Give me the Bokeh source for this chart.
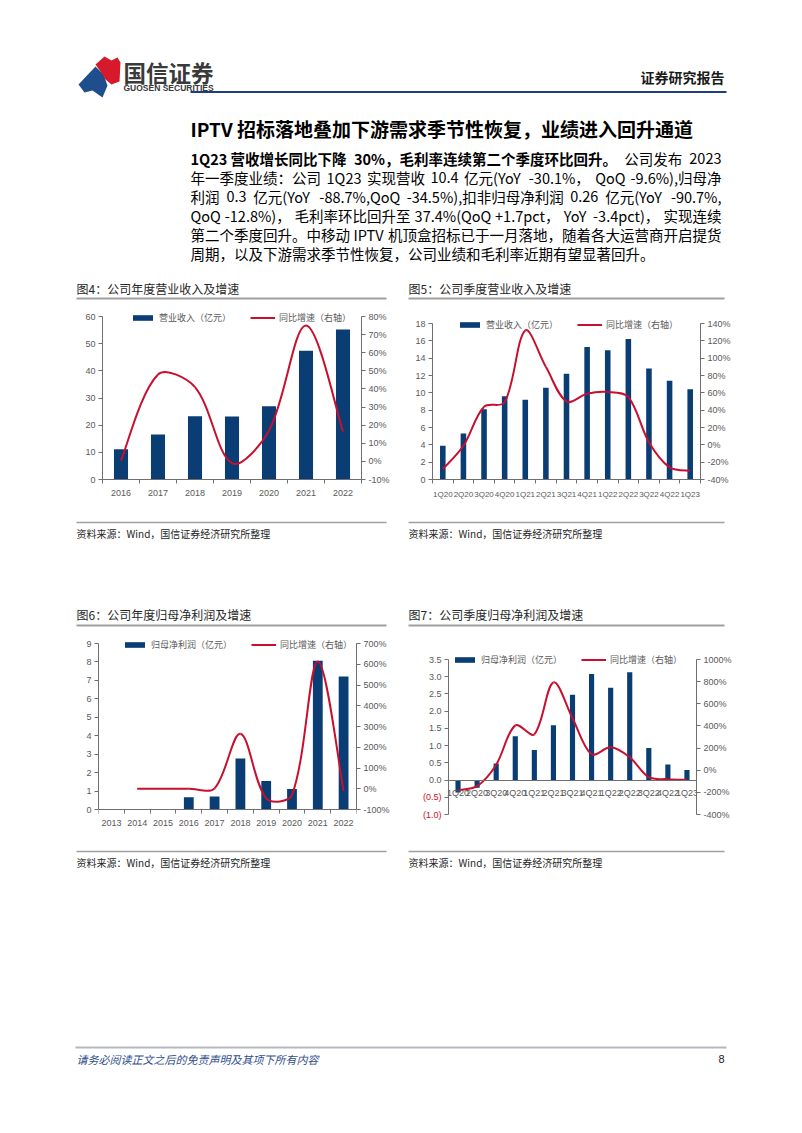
import math
import numpy as np
from bokeh.plotting import figure
from bokeh.models import (Range1d, LinearAxis, FixedTicker, PrintfTickFormatter,
                          Legend, LegendItem, ColumnDataSource)
from bokeh.layouts import column, row
from bokeh.embed import file_html
from bokeh.resources import INLINE
from bokeh.core.properties import value

nan = float("nan")

# ---------------- data ----------------
annual_years = ["2016", "2017", "2018", "2019", "2020", "2021", "2022"]
annual_revenue = [11.1, 16.6, 23.3, 23.2, 27.0, 47.4, 55.2]
annual_revenue_yoy = [0.5, 48.0, 41.0, -1.0, 17.0, 75.0, 16.5]

quarters = ["1Q20", "2Q20", "3Q20", "4Q20", "1Q21", "2Q21", "3Q21",
            "4Q21", "1Q22", "2Q22", "3Q22", "4Q22", "1Q23"]
quarterly_revenue = [3.9, 5.3, 8.1, 9.6, 9.2, 10.6, 12.2, 15.3, 14.9, 16.2, 12.8, 11.4, 10.4]
quarterly_revenue_yoy = [-28, -1, 44, 49, 132, 90, 50, 59, 61, 55, 3, -26, -30]

profit_years = ["2013", "2014", "2015", "2016", "2017", "2018", "2019", "2020", "2021", "2022"]
annual_profit = [nan, nan, nan, 0.66, 0.71, 2.76, 1.54, 1.11, 8.06, 7.21]
annual_profit_yoy = [nan, 0, 0, 0, 2, 265, -46, -30, 613, -10]

quarterly_profit = [-0.36, -0.22, 0.48, 1.27, 0.87, 1.59, 2.48, 3.08, 2.68, 3.13, 0.93, 0.45, 0.29]
quarterly_profit_yoy = [-180, -144, 50, 405, 324, 793, 470, 144, 207, 117, -63, -81, -86]

t4_left = [0, 10, 20, 30, 40, 50, 60]
t4_right = [-10, 0, 10, 20, 30, 40, 50, 60, 70, 80]
t5_left = [0, 2, 4, 6, 8, 10, 12, 14, 16, 18]
t5_right = [-40, -20, 0, 20, 40, 60, 80, 100, 120, 140]
t6_left = [0, 1, 2, 3, 4, 5, 6, 7, 8, 9]
t6_right = [-100, 0, 100, 200, 300, 400, 500, 600, 700]
t7_left = [-1.0, -0.5, 0.0, 0.5, 1.0, 1.5, 2.0, 2.5, 3.0, 3.5]
t7_left_neg = {-0.5: "(0.5)", -1.0: "(1.0)"}
t7_right = [-400, -200, 0, 200, 400, 600, 800, 1000]

leg_rev = ["营业收入（亿元）", "同比增速（右轴）"]
leg_np = ["归母净利润（亿元）", "同比增速（右轴）"]

NAVY = "#0A3D73"
RED = "#C8102E"
AXIS = "#6F6F6F"
TICK = "#595959"
CJK = "Noto Sans CJK SC"
LAT = "Liberation Sans"
PAGE_W = 802


def smooth_segments(xs, ys, sx, sy):
    """Bezier segments through the points (distance-weighted smoothing)."""
    pts = [(x, y) for x, y in zip(xs, ys) if not np.isnan(y)]
    n = len(pts)
    d = dict(x0=[], y0=[], x1=[], y1=[], cx0=[], cy0=[], cx1=[], cy1=[])

    def dist(a, b):
        return math.hypot((b[0] - a[0]) * sx, (b[1] - a[1]) * sy)

    for i in range(n - 1):
        p0 = pts[i - 1] if i > 0 else pts[i]
        p1, p2 = pts[i], pts[i + 1]
        p3 = pts[i + 2] if i + 2 < n else pts[i + 1]
        d01, d12, d23 = dist(p0, p1), dist(p1, p2), dist(p2, p3)
        f1 = 0.5 if d01 == 0 else d12 / (d01 + d12)
        f2 = 0.5 if d23 == 0 else d12 / (d12 + d23)
        d["x0"].append(p1[0]); d["y0"].append(p1[1])
        d["x1"].append(p2[0]); d["y1"].append(p2[1])
        d["cx0"].append(p1[0] + (p2[0] - p0[0]) * f1 / 3.0)
        d["cy0"].append(p1[1] + (p2[1] - p0[1]) * f1 / 3.0)
        d["cx1"].append(p2[0] - (p3[0] - p1[0]) * f2 / 3.0)
        d["cy1"].append(p2[1] - (p3[1] - p1[1]) * f2 / 3.0)
    return d


def style_axis(ax, size="9px"):
    ax.axis_line_color = AXIS
    ax.axis_line_width = 1
    ax.major_tick_line_color = AXIS
    ax.major_tick_out = 4
    ax.major_tick_in = 0
    ax.minor_tick_line_color = None
    ax.major_label_text_font = LAT
    ax.major_label_text_font_size = size
    ax.major_label_text_color = TICK
    ax.major_label_standoff = 3


def make_chart(fig_x, fig_y, w, h, frame, cats, bars, growth, lrange, lticks,
               lfmt, rrange, rticks, bar_w, names, leg_pos, xsize,
               pad_top=10, pad_left=0, pad_bottom=0, fixed_x=False,
               x_standoff=6, xticks=True):
    L, R, T, B = frame            # page position of the tick area
    n = len(cats)
    ppc = (R - L) / n
    lppu = (B - T) / (lrange[1] - lrange[0])
    rppu = (B - T) / (rrange[1] - rrange[0])
    p = figure(width=w, height=h,
               x_range=Range1d(-0.5 - pad_left / ppc, n - 0.5),
               y_range=Range1d(lrange[0] - pad_bottom / lppu, lrange[1] + pad_top / lppu),
               output_backend="svg", toolbar_location=None,
               min_border_left=L - pad_left - fig_x,
               min_border_right=fig_x + w - R,
               min_border_top=T - pad_top - fig_y,
               min_border_bottom=fig_y + h - B - pad_bottom)
    p.outline_line_color = None
    p.grid.visible = False
    p.extra_y_ranges = {"r": Range1d(rrange[0] - pad_bottom / rppu,
                                     rrange[1] + pad_top / rppu)}

    ya = p.yaxis[0]
    ya.ticker = FixedTicker(ticks=lticks)
    ya.formatter = PrintfTickFormatter(format=lfmt)
    ya.bounds = lrange
    style_axis(ya)
    if pad_left:
        ya.fixed_location = -0.5

    ra = LinearAxis(y_range_name="r", ticker=FixedTicker(ticks=rticks),
                    formatter=PrintfTickFormatter(format="%d%%"), bounds=rrange)
    style_axis(ra)
    p.add_layout(ra, "right")

    idx = list(range(n))
    xa = p.xaxis[0]
    xa.ticker = FixedTicker(ticks=idx, minor_ticks=[i - 0.5 for i in range(n + 1)])
    xa.major_label_overrides = {i: c for i, c in enumerate(cats)}
    xa.bounds = (-0.5, n - 0.5)
    style_axis(xa, xsize)
    xa.major_tick_line_color = None
    xa.major_tick_out = 0
    xa.major_label_standoff = x_standoff
    if xticks:
        xa.minor_tick_line_color = AXIS
        xa.minor_tick_out = 4
        xa.minor_tick_in = 0
    if fixed_x:
        xa.fixed_location = 0

    src = ColumnDataSource(dict(x=idx, top=bars))
    vb = p.vbar(x="x", top="top", width=bar_w, source=src,
                fill_color=NAVY, line_color=None)
    seg = ColumnDataSource(smooth_segments(idx, growth, ppc, rppu))
    bz = p.bezier(x0="x0", y0="y0", x1="x1", y1="y1", cx0="cx0", cy0="cy0",
                  cx1="cx1", cy1="cy1", source=seg, y_range_name="r",
                  line_color=RED, line_width=2)

    lx, lc = leg_pos              # page x of legend, page y of its centre
    leg = Legend(items=[LegendItem(label=names[0], renderers=[vb]),
                        LegendItem(label=names[1], renderers=[bz])],
                 orientation="horizontal",
                 location=(lx - (L - pad_left), (B + pad_bottom - lc) - 6),
                 glyph_width=25, glyph_height=7, label_height=7, label_width=10,
                 label_standoff=4, spacing=19, padding=0, margin=0,
                 border_line_color=None, background_fill_alpha=0,
                 label_text_font=CJK, label_text_font_size="9px",
                 label_text_color=TICK)
    p.add_layout(leg)
    return p


def strip(h):
    p = figure(width=PAGE_W, height=h, x_range=Range1d(0, PAGE_W),
               y_range=Range1d(h, 0), output_backend="svg",
               toolbar_location=None, x_axis_location=None,
               y_axis_location=None, min_border=0)
    p.outline_line_color = None
    p.grid.visible = False
    return p


def txt(p, top, px, py, s, size, color="#000000", style="normal",
        align="left", font=CJK):
    p.text(x=[px], y=[py - top], text=[s], text_font=value(font),
           text_font_size=size, text_color=color, text_align=align,
           text_baseline="middle", text_font_style=style)


def hline(p, top, x0, x1, py, color, width):
    p.line(x=[x0, x1], y=[py - top, py - top], line_color=color, line_width=width)


LATIN_W = {".": 0.276, ",": 0.276, "-": 0.342, "+": 0.553, "%": 0.915,
           "(": 0.335, ")": 0.335, " ": 0.224, "Q": 0.737, "Y": 0.57,
           "o": 0.605, "I": 0.29, "P": 0.65, "T": 0.6, "V": 0.61, "p": 0.62,
           "c": 0.505, "t": 0.39}


def est_width(s, size, bold):
    w = 0.0
    for ch in s:
        if ord(ch) > 0x2E80:
            w += 1.0
        elif ch.isdigit():
            w += 0.553 * (1.06 if bold else 1.0)
        else:
            w += LATIN_W.get(ch, 0.56) * (1.06 if bold else 1.0)
    return w * size


def justified(p, top, x0, x1, py, chunks, size):
    widths = [est_width(s, size, b) for s, b in chunks]
    gap = (x1 - x0 - sum(widths)) / (len(chunks) - 1)
    pos = x0
    for i, ((s, b), wd) in enumerate(zip(chunks, widths)):
        style = "bold" if b else "normal"
        if i == len(chunks) - 1:
            txt(p, top, x1, py, s, f"{size}px", "#000000", style, align="right")
        else:
            txt(p, top, pos, py, s, f"{size}px", "#000000", style)
        pos += wd + gap


# ---------------- header strip ----------------
H1_TOP, H1_H = 0, 305
h1 = strip(H1_H)
h1.patch(x=[78, 95, 103, 107, 102, 92, 84],
         y=[84, 66, 74, 85, 97, 90, 92], fill_color="#1F4E8C", line_color=None)
h1.patch(x=[95, 104, 111, 117, 120, 119, 111, 105, 100],
         y=[64, 56, 60, 57, 62, 81, 84, 79, 71], fill_color="#D7192C", line_color=None)
txt(h1, H1_TOP, 123, 71, "国信证券", "22.5px", "#3A3A3A", "bold")
txt(h1, H1_TOP, 123, 87.5, "GUOSEN SECURITIES", "8.5px", "#3A3A3A", "bold", font=LAT)
txt(h1, H1_TOP, 724, 76, "证券研究报告", "14px", "#1A1A1A", "bold", align="right")
hline(h1, H1_TOP, 190, 726, 91.5, "#1F3D7A", 2)

txt(h1, H1_TOP, 190, 128, "IPTV 招标落地叠加下游需求季节性恢复，业绩进入回升通道",
    "19px", "#000000", "bold")

PX0, PX1, PSIZE = 190, 721, 14.5
para_lines = [
    [("1Q23 营收增长同比下降", True), ("30%，毛利率连续第二个季度环比回升。", True),
     ("公司发布", False), ("2023", False)],
    [("年一季度业绩：公司", False), ("1Q23", False), ("实现营收", False), ("10.4", False),
     ("亿元(YoY", False), ("-30.1%，", False), ("QoQ", False), ("-9.6%),归母净", False)],
    [("利润", False), ("0.3", False), ("亿元(YoY", False), ("-88.7%,QoQ", False),
     ("-34.5%),扣非归母净利润", False), ("0.26", False), ("亿元(YoY", False), ("-90.7%,", False)],
    [("QoQ", False), ("-12.8%)，", False), ("毛利率环比回升至", False), ("37.4%(QoQ", False),
     ("+1.7pct，", False), ("YoY", False), ("-3.4pct)，", False), ("实现连续", False)],
    [("第二个季度回升。中移动", False), ("IPTV", False),
     ("机顶盒招标已于一月落地，随着各大运营商开启提货", False)],
]
for i, chunks in enumerate(para_lines):
    justified(h1, H1_TOP, PX0, PX1, 158 + 19 * i, chunks, PSIZE)
txt(h1, H1_TOP, PX0, 158 + 19 * 5,
    "周期，以及下游需求季节性恢复，公司业绩和毛利率近期有望显著回升。", f"{PSIZE}px")

txt(h1, H1_TOP, 76, 288, "图4：公司年度营业收入及增速", "12px", "#262626")
txt(h1, H1_TOP, 408, 288, "图5：公司季度营业收入及增速", "12px", "#262626")
hline(h1, H1_TOP, 76, 386, 298, "#A0A0A0", 2)
hline(h1, H1_TOP, 408, 724, 298, "#A0A0A0", 2)

# ---------------- chart row 1 (frames share top 306 / bottom 479) ----------------
c4 = make_chart(0, 305, 400, 205, (102, 361, 316, 479), annual_years,
                annual_revenue, annual_revenue_yoy, (0, 60), t4_left, "%d",
                (-10, 80), t4_right, 0.38, leg_rev, (130, 318), "9px", pad_top=10)
c5 = make_chart(400, 305, 402, 205, (432, 700, 323, 479), quarters,
                quarterly_revenue, quarterly_revenue_yoy, (0, 18), t5_left, "%d",
                (-40, 140), t5_right, 0.27, leg_rev, (457, 325), "8px", pad_top=17)

# ---------------- middle strip ----------------
H2_TOP, H2_H = 510, 122
h2 = strip(H2_H)
hline(h2, H2_TOP, 76, 386, 522, "#A0A0A0", 1.5)
hline(h2, H2_TOP, 408, 724, 522, "#A0A0A0", 1.5)
txt(h2, H2_TOP, 76, 533, "资料来源：Wind，国信证券经济研究所整理", "10px", "#262626")
txt(h2, H2_TOP, 408, 533, "资料来源：Wind，国信证券经济研究所整理", "10px", "#262626")
txt(h2, H2_TOP, 76, 614, "图6：公司年度归母净利润及增速", "12px", "#262626")
txt(h2, H2_TOP, 408, 614, "图7：公司季度归母净利润及增速", "12px", "#262626")
hline(h2, H2_TOP, 76, 386, 625, "#A0A0A0", 2)
hline(h2, H2_TOP, 408, 724, 625, "#A0A0A0", 2)

# ---------------- chart row 2 (frames fill 632..840) ----------------
c6 = make_chart(0, 632, 400, 208, (98, 356, 643, 809), profit_years,
                annual_profit, annual_profit_yoy, (0, 9), t6_left, "%d",
                (-100, 700), t6_right, 0.38, leg_np, (122, 645), "9px",
                pad_top=11, pad_bottom=31, fixed_x=True)
c7 = make_chart(400, 632, 402, 208, (448, 696, 659, 814), quarters,
                quarterly_profit, quarterly_profit_yoy, (-1.0, 3.5), t7_left,
                "%.1f", (-400, 1000), t7_right, 0.27, leg_np, (452, 660), "9px",
                pad_top=27, pad_left=43, pad_bottom=26, fixed_x=True,
                x_standoff=4, xticks=False)
c7.yaxis[0].major_label_overrides = {k: "" for k in t7_left_neg}
neg_vals = list(t7_left_neg.keys())
c7.text(x=[-0.5] * len(neg_vals), y=neg_vals, text=[t7_left_neg[k] for k in neg_vals],
        x_offset=-7, text_align="right", text_baseline="middle", text_color=RED,
        text_font=value(LAT), text_font_size="9px")

# ---------------- bottom strip ----------------
H3_TOP, H3_H = 840, 285
h3 = strip(H3_H)
hline(h3, H3_TOP, 76, 386, 851, "#A0A0A0", 1.5)
hline(h3, H3_TOP, 408, 724, 851, "#A0A0A0", 1.5)
txt(h3, H3_TOP, 76, 862, "资料来源：Wind，国信证券经济研究所整理", "10px", "#262626")
txt(h3, H3_TOP, 408, 862, "资料来源：Wind，国信证券经济研究所整理", "10px", "#262626")
hline(h3, H3_TOP, 75, 726, 1047, "#B4B8C0", 2)
txt(h3, H3_TOP, 76, 1058, "请务必阅读正文之后的免责声明及其项下所有内容", "11px",
    "#2F4E8C", "italic")
txt(h3, H3_TOP, 724, 1058, "8", "11px", "#1A1A1A", align="right", font=LAT)

layout = column(h1, row(c4, c5), h2, row(c6, c7), h3)
open("out.html", "w").write(file_html(layout, INLINE))
